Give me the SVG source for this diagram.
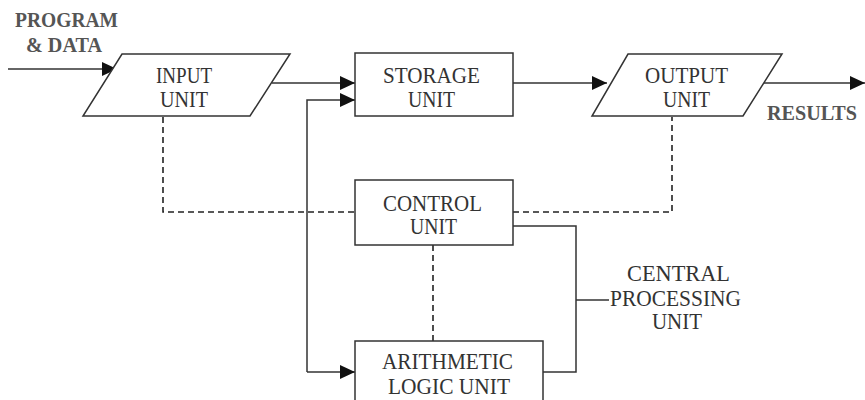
<svg xmlns="http://www.w3.org/2000/svg" width="865" height="400" viewBox="0 0 865 400">
<defs>
<style>
.shape{fill:#fff;stroke:#333;stroke-width:1.5}
.line{fill:none;stroke:#333;stroke-width:1.5}
.dash{fill:none;stroke:#222;stroke-width:1.6;stroke-dasharray:6 4}
.lbl{font-family:"Liberation Serif","Times New Roman",serif;font-size:22.5px;fill:#333;text-anchor:start}
.ext{font-family:"Liberation Serif","Times New Roman",serif;font-size:20px;font-weight:bold;fill:#555;text-anchor:start}
</style>
<marker id="arr" markerUnits="userSpaceOnUse" markerWidth="16" markerHeight="14" refX="15" refY="7" orient="auto">
<path d="M0,0 L15,7 L0,14 Z" fill="#111"/>
</marker>
</defs>
<rect width="865" height="400" fill="#fff"/>
<g id="connectors">
<line class="line" x1="8" y1="69" x2="117" y2="69" marker-end="url(#arr)"/>
<line class="line" x1="272" y1="83" x2="355" y2="83" marker-end="url(#arr)"/>
<polyline class="line" points="307,372 307,100 355,100" marker-end="url(#arr)"/>
<line class="line" x1="307" y1="372" x2="355" y2="372" marker-end="url(#arr)"/>
<line class="line" x1="513" y1="83" x2="607" y2="83" marker-end="url(#arr)"/>
<line class="line" x1="764" y1="83" x2="865" y2="83" marker-end="url(#arr)"/>
<polyline class="dash" points="163,117 163,212 355,212"/>
<polyline class="dash" points="513,212 672,212 672,117"/>
<line class="dash" x1="433" y1="245" x2="433" y2="341"/>
<polyline class="line" points="513,226 576,226 576,372 543,372"/>
<line class="line" x1="576" y1="300" x2="609" y2="300"/>
</g>
<g id="input">
<polygon class="shape" points="122,54 290,54 250,116 83,116"/>
<text class="lbl" x="156" y="83" textLength="56" lengthAdjust="spacingAndGlyphs">INPUT</text>
<text class="lbl" x="160" y="107" textLength="48" lengthAdjust="spacingAndGlyphs">UNIT</text>
</g>
<g id="storage">
<rect class="shape" x="355" y="53" width="158" height="63"/>
<text class="lbl" x="383" y="83" textLength="97" lengthAdjust="spacingAndGlyphs">STORAGE</text>
<text class="lbl" x="408" y="107" textLength="47" lengthAdjust="spacingAndGlyphs">UNIT</text>
</g>
<g id="output">
<polygon class="shape" points="628,54 782,54 743,116 592,116"/>
<text class="lbl" x="645" y="83" textLength="83" lengthAdjust="spacingAndGlyphs">OUTPUT</text>
<text class="lbl" x="663" y="107" textLength="47" lengthAdjust="spacingAndGlyphs">UNIT</text>
</g>
<g id="control">
<rect class="shape" x="355" y="180" width="158" height="65"/>
<text class="lbl" x="383" y="211" textLength="99" lengthAdjust="spacingAndGlyphs">CONTROL</text>
<text class="lbl" x="410" y="234" textLength="47" lengthAdjust="spacingAndGlyphs">UNIT</text>
</g>
<g id="alu">
<rect class="shape" x="355" y="341" width="188" height="65"/>
<text class="lbl" x="382" y="369" textLength="131" lengthAdjust="spacingAndGlyphs">ARITHMETIC</text>
<text class="lbl" x="388" y="394" textLength="122" lengthAdjust="spacingAndGlyphs">LOGIC UNIT</text>
</g>
<g id="cpu-label">
<text class="lbl" x="627" y="281" textLength="103" lengthAdjust="spacingAndGlyphs">CENTRAL</text>
<text class="lbl" x="610" y="306" textLength="131" lengthAdjust="spacingAndGlyphs">PROCESSING</text>
<text class="lbl" x="652" y="329" textLength="50" lengthAdjust="spacingAndGlyphs">UNIT</text>
</g>
<g id="program-data">
<text class="ext" x="15" y="27" textLength="103" lengthAdjust="spacingAndGlyphs">PROGRAM</text>
<text class="ext" x="26" y="52" textLength="76" lengthAdjust="spacingAndGlyphs">&amp; DATA</text>
</g>
<g id="results">
<text class="ext" x="767" y="120" textLength="90" lengthAdjust="spacingAndGlyphs">RESULTS</text>
</g>
</svg>
